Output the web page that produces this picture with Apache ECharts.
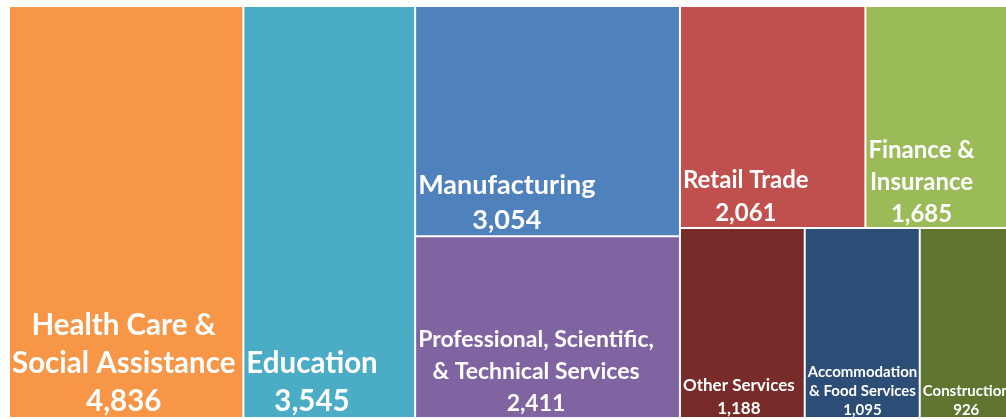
<!DOCTYPE html>
<html>
<head>
<meta charset="utf-8">
<script src="https://cdn.jsdelivr.net/npm/echarts@6/dist/echarts.min.js"></script>
<style>
  html, body { margin: 0; padding: 0; background: #fff; }
  #main { width: 1006px; height: 419px; }
</style>
</head>
<body>
<div id="main"></div>
<script>
// industries and employment counts
var industries = [
    'Health Care &\nSocial Assistance',
    'Education',
    'Manufacturing',
    'Professional, Scientific,\n& Technical Services',
    'Retail Trade',
    'Finance &\nInsurance',
    'Other Services',
    'Accommodation\n& Food Services',
    'Construction'
]
var employment = [4836, 3545, 3054, 2411, 2061, 1685, 1188, 1095, 926]
// how the tiles are nested (indices into the arrays above)
var groups = [0, 1, [2, 3], [[4, 5], [6, 7, 8]]]

// styles
var colors = ['#F79646', '#4BACC6', '#4F81BD', '#8064A2', '#C0504D', '#9BBB59', '#772C2A', '#2C4D75', '#5F7530']
var fontSizes = [29.5, 29.5, 27, 23, 24, 24, 17, 15, 15]
var lineHeights = [38, 38, 35, 32, 33, 32, 23, 19, 19]

var ctx = document.createElement('canvas').getContext('2d')
function blockWidth (text, size) {
    ctx.font = 'bold ' + size + 'px Lato'
    var w = 0
    text.split('\n').forEach(function (line) {
        w = Math.max(w, ctx.measureText(line).width)
    })
    return w
}

function leaf (i) {
    var text = industries[i] + '\n' + employment[i].toLocaleString('en-US')
    return {
        name: industries[i],
        value: employment[i],
        itemStyle: { color: colors[i] },
        label: {
            fontSize: fontSizes[i],
            lineHeight: lineHeights[i],
            // lines centred inside a block that sits at the left of the tile
            offset: [blockWidth(text, fontSizes[i]) / 2, 5]
        }
    }
}

function build (node) {
    if (typeof node === 'number') return leaf(node)
    return {
        name: '',
        children: node.map(build),
        itemStyle: { borderWidth: 0, gapWidth: 0 },
        label: { show: false }
    }
}

var myChart = echarts.init(document.getElementById('main'))
var option = {
    animation: false,
    series: [
        {
            type: 'treemap',
            left: 8,
            top: 5,
            width: 1010,
            height: 414,
            sort: false,
            squareRatio: 1,
            roam: false,
            nodeClick: false,
            breadcrumb: { show: false },
            emphasis: { disabled: true },
            itemStyle: {
                borderWidth: 1,
                borderColor: 'rgba(255,255,255,0.75)',
                gapWidth: 0
            },
            upperLabel: { show: false },
            label: {
                show: true,
                position: 'insideBottomLeft',
                distance: 2,
                padding: 0,
                align: 'center',
                overflow: 'none',
                color: '#fff',
                fontFamily: 'Lato',
                fontWeight: 'bold',
                formatter: function (p) {
                    return p.name + '\n' + p.value.toLocaleString('en-US')
                }
            },
            data: groups.map(build)
        }
    ]
}
myChart.setOption(option)
</script>
</body>
</html>
